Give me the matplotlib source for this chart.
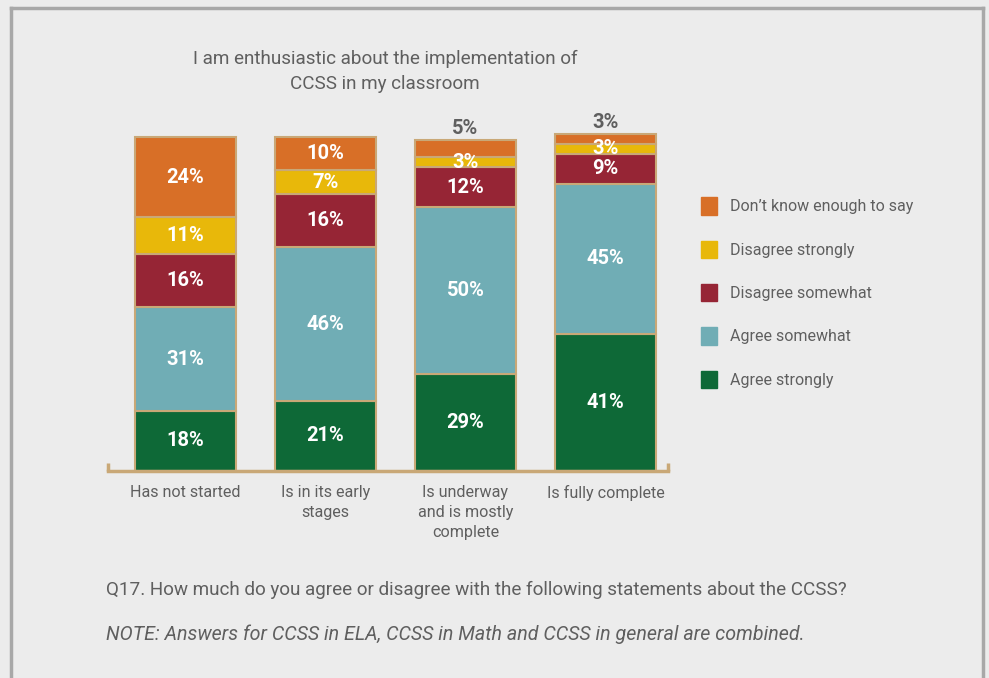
import matplotlib.pyplot as plt
import matplotlib.patches as mpatches

plt.rcParams['font.family'] = ['Roboto', 'DejaVu Sans']

# stacked shares per implementation stage (bottom to top)
categories = ['Has not started', 'Is in its early\nstages', 'Is underway\nand is mostly\ncomplete', 'Is fully complete']
agree_strongly = [18, 21, 29, 41]
agree_somewhat = [31, 46, 50, 45]
disagree_somewhat = [16, 16, 12, 9]
disagree_strongly = [11, 7, 3, 3]
dont_know = [24, 10, 5, 3]

series = [
    ('Agree strongly', agree_strongly, '#0E6937'),
    ('Agree somewhat', agree_somewhat, '#70ADB5'),
    ('Disagree somewhat', disagree_somewhat, '#962535'),
    ('Disagree strongly', disagree_strongly, '#E8B80A'),
    ("Don\u2019t know enough to say", dont_know, '#D86F27'),
]

bg = '#ECECEC'
edge = '#C9A877'
grey_text = '#5F5F5F'

W, H = 989, 678
fig = plt.figure(figsize=(W / 100, H / 100), dpi=100, facecolor=bg)

# outer frame
fig.add_artist(plt.Line2D([11 / W, 11 / W], [0, 1 - 8 / H], color='#A8A8A8', lw=2.5))
fig.add_artist(plt.Line2D([11 / W, 983 / W], [1 - 8 / H, 1 - 8 / H], color='#A8A8A8', lw=2.5))
fig.add_artist(plt.Line2D([983 / W, 983 / W], [0, 1 - 8 / H], color='#A8A8A8', lw=2.5))

# axes: baseline at y=471px, 3.34 px per percentage point
px_per_pt = 3.34
ymax = 110
ax = fig.add_axes([108 / W, (H - 471) / H, 560 / W, ymax * px_per_pt / H])
ax.set_facecolor('none')
ax.set_xlim(-77.5 / 140, (560 - 77.5) / 140)
ax.set_ylim(0, ymax)

x = range(len(categories))
bottom = [0] * len(categories)
for name, vals, color in series:
    ax.bar(x, vals, width=0.72, bottom=bottom, color=color, edgecolor=edge, linewidth=1.5, label=name)
    for i, v in enumerate(vals):
        top_small = name.startswith('Don') and v <= 5
        if top_small:
            ax.text(i, bottom[i] + v + 0.6, f'{v}%', ha='center', va='bottom',
                    color=grey_text, fontsize=14.5, fontweight='bold')
        else:
            ax.text(i, bottom[i] + v / 2, f'{v}%', ha='center', va='center',
                    color='white', fontsize=14.5, fontweight='bold')
    bottom = [b + v for b, v in zip(bottom, vals)]

for s in ['top', 'right', 'left']:
    ax.spines[s].set_visible(False)
ax.spines['bottom'].set_color(edge)
ax.spines['bottom'].set_linewidth(2.5)
ax.set_yticks([])
ax.set_xticks(list(x))
ax.set_xticklabels(categories, color=grey_text, fontsize=11.6, linespacing=1.42, va='top')
ax.tick_params(axis='x', length=0, pad=10)

# small end caps on the baseline
for xe in [0, 1]:
    ax.plot([xe, xe], [0, 8 / (ymax * px_per_pt)], transform=ax.transAxes,
            color=edge, lw=2.5, clip_on=False, solid_capstyle='butt')

fig.text(385 / W, 1 - 71.5 / H, 'I am enthusiastic about the implementation of\nCCSS in my classroom',
         ha='center', va='center', color=grey_text, fontsize=13.6, linespacing=1.5)

# legend, top entry first
handles = [mpatches.Patch(color=c, label=n) for n, _, c in reversed(series)]
fig.legend(handles=handles, loc='upper left', bbox_to_anchor=(695 / W, 1 - 191 / H),
           frameon=False, fontsize=11.5, labelcolor=grey_text, handlelength=1.0,
           handleheight=1.3, handletextpad=0.8, labelspacing=1.62, borderaxespad=0)

fig.text(106 / W, 1 - 590 / H,
         'Q17. How much do you agree or disagree with the following statements about the CCSS?',
         ha='left', va='center', color=grey_text, fontsize=13.6)
fig.text(106 / W, 1 - 634 / H,
         'NOTE: Answers for CCSS in ELA, CCSS in Math and CCSS in general are combined.',
         ha='left', va='center', color=grey_text, fontsize=14.1, style='italic')

fig.savefig('out.png', dpi=100, facecolor=bg)
